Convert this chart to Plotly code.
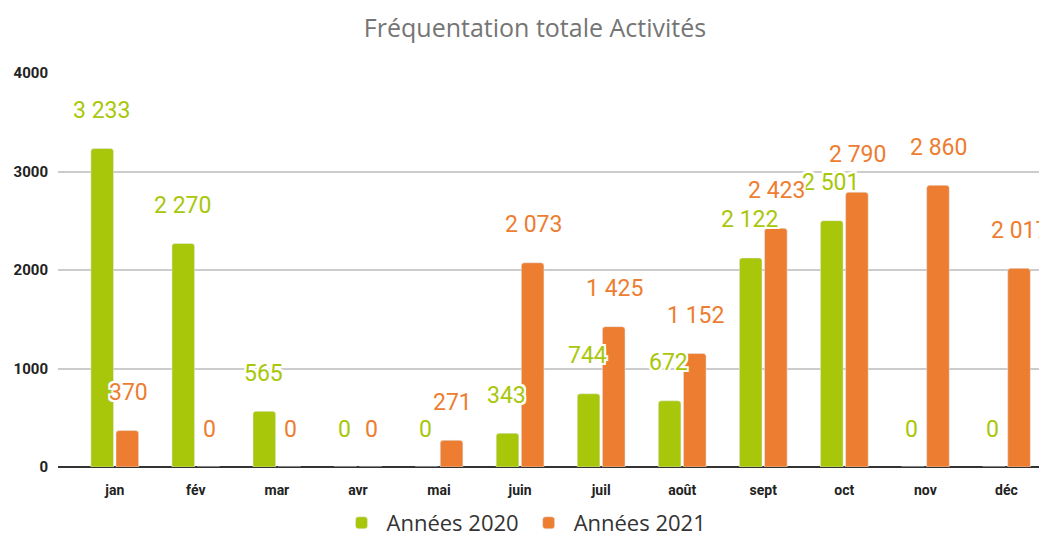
import plotly.graph_objects as go

months = ["jan", "fév", "mar", "avr", "mai", "juin", "juil", "août", "sept", "oct", "nov", "déc"]
values_2020 = [3233, 2270, 565, 0, 0, 343, 744, 672, 2122, 2501, 0, 0]
values_2021 = [370, 0, 0, 0, 271, 2073, 1425, 1152, 2423, 2790, 2860, 2017]
series_names = ["Années 2020", "Années 2021"]
y_ticks = [0, 1000, 2000, 3000, 4000]

GREEN = "#A8C70B"
ORANGE = "#ED7D31"

# the page body has an 8px margin, so the figure is drawn 8px right/down
W, H = 1039, 532

def fmt(v):
    return f"{v:,}".replace(",", " ")

fig = go.Figure()
fig.add_trace(go.Bar(x=months, y=values_2020, name=series_names[0], marker_color=GREEN))
fig.add_trace(go.Bar(x=months, y=values_2021, name=series_names[1], marker_color=ORANGE))

shadow = "2px 0 0 white, -2px 0 0 white, 0 2px 0 white, 0 -2px 0 white, 2px 2px 0 white, -2px -2px 0 white, 2px -2px 0 white, -2px 2px 0 white"
annotations = []
for vals, color, dx in [(values_2020, GREEN, -13.5), (values_2021, ORANGE, 13.5)]:
    for m, v in zip(months, vals):
        annotations.append(dict(
            x=m, y=v, xref="x", yref="y", text=fmt(v), showarrow=False,
            xshift=dx, yshift=38, yanchor="middle",
            font=dict(family="Roboto", size=23, color=color, shadow=shadow),
        ))

fig.update_layout(
    width=W, height=H,
    margin=dict(l=50, r=0, t=65, b=73, autoexpand=False),
    plot_bgcolor="white", paper_bgcolor="white",
    barmode="group", bargap=0.38, bargroupgap=0.1, barcornerradius=3,
    title=dict(text="Fréquentation totale Activités", x=527 / W, xanchor="center",
               y=1 - 20 / H, yanchor="middle", yref="container",
               font=dict(family="Open Sans", size=25, color="#757575")),
    xaxis=dict(range=[-0.7, 11.5], automargin=False,
               tickfont=dict(family="Roboto", size=14, color="#222", weight="bold"),
               ticks="outside", ticklen=10, tickcolor="rgba(0,0,0,0)",
               showline=False, showgrid=False, zeroline=False),
    yaxis=dict(range=[0, 4000], automargin=False, tickvals=y_ticks, ticktext=[str(t) for t in y_ticks],
               tickfont=dict(family="Roboto", size=15, color="#222", weight="bold"),
               ticks="outside", ticklen=6, tickcolor="rgba(0,0,0,0)",
               showgrid=True, gridcolor="#CCCCCC", gridwidth=2,
               zeroline=True, zerolinecolor="#333333", zerolinewidth=2),
    legend=dict(orientation="h", x=516 / W, xanchor="center", xref="container",
                y=1 - 515 / H, yanchor="middle", yref="container",
                font=dict(family="Open Sans", size=22, color="#333"), itemwidth=40,
                traceorder="normal"),
    annotations=annotations,
)

fig.write_html("out.html")
